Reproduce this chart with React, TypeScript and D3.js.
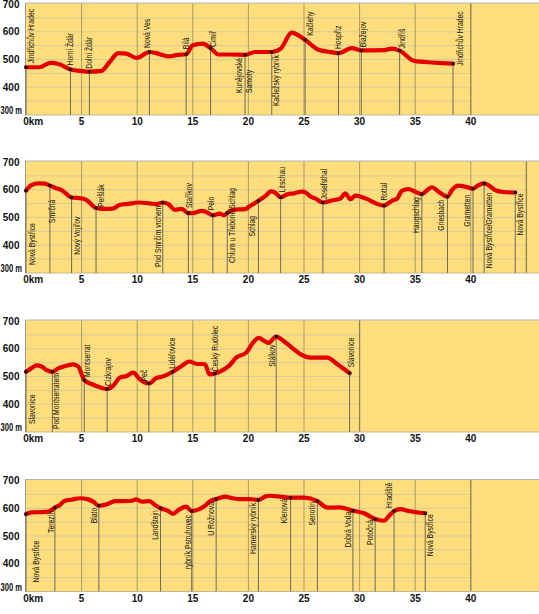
import React from "react";
import * as d3 from "d3";

// ---------- DATA ----------
const kmTicks = [0, 5, 10, 15, 20, 25, 30, 35, 40];
const kmTickLabels = ["0km", "5", "10", "15", "20", "25", "30", "35", "40"];
const elevTicks = [700, 600, 500, 400, 300];
const elevTickLabels = ["700", "600", "500", "400", "300 m"];
const gridLinesElev = [350, 400, 450, 500, 550, 600, 650];
const gridEndKm = [40, 45, 30, 40];

// Route 1: Jindřichův Hradec – Jindřichův Hradec
const stops1: [string, number, number][] = [
  ["Jindřichův Hradec", 0, 472],
  ["Horní Ždár", 4.0, 464],
  ["Dolní Ždár", 5.7, 456],
  ["Nová Ves", 11.1, 527],
  ["Bílá", 14.4, 519],
  ["Cimíř", 16.6, 541],
  ["Kunějovské\nSamoty", 19.7, 517],
  ["Kačležský rybník", 22.1, 527],
  ["Kačlehy", 25.1, 571],
  ["Hospříz", 28.1, 523],
  ["Blažejov", 30.15, 533],
  ["Jindříš", 33.6, 532],
  ["Jindřichův Hradec", 38.4, 485],
];
const profile1: [number, number][] = [
  [1.2, 472], [2.2, 488], [3.0, 483], [5.0, 458], [6.8, 459], [7.5, 490], [8.3, 523],
  [9.0, 521], [9.95, 506], [11.7, 523], [12.9, 511], [13.5, 516], [15.0, 551],
  [15.9, 557], [17.3, 518], [18.3, 518], [20.6, 527], [21.5, 527], [22.9, 539],
  [23.9, 597], [24.5, 587], [26.3, 535], [27.2, 528], [29.3, 541], [32.2, 534],
  [32.9, 539], [34.9, 495], [36.7, 489],
];

// Route 2: Nová Bystřice – Nová Bystřice
const stops2: [string, number, number][] = [
  ["Nová Bystřice", 0, 597],
  ["Smrčná", 2.15, 615],
  ["Nový Vojířov", 4.1, 572],
  ["Peršlák", 6.3, 534],
  ["Pod Smrčím vrchem", 12.3, 554],
  ["Staříkov", 14.6, 516],
  ["Pelo", 16.8, 508],
  ["Chlum u Třeboně/Schlag", 18.1, 516],
  ["Schlag", 20.9, 560],
  ["Litschau", 22.9, 573],
  ["Josefsthal", 26.7, 554],
  ["Rottal", 32.2, 543],
  ["Haugschlag", 35.6, 584],
  ["Griesbach", 37.9, 575],
  ["Grametten", 40.2, 604],
  ["Nová Bystřice/Grametten", 41.2, 623],
  ["Nová Bystřice", 44.0, 590],
];
const profile2: [number, number][] = [
  [0.5, 617], [1.1, 623], [1.7, 622], [2.75, 605], [3.2, 599], [5.0, 569], [5.45, 563],
  [6.95, 531], [7.8, 532], [8.4, 545], [9.2, 549], [10.1, 554], [11.1, 551], [11.7, 548],
  [12.8, 548], [13.4, 528], [14.0, 531], [15.0, 516], [15.8, 524], [16.2, 520],
  [17.4, 514], [17.8, 508], [18.6, 528], [19.7, 530], [20.1, 540], [21.6, 580],
  [22.0, 594], [22.4, 590], [23.5, 584], [24.1, 587], [24.8, 593], [25.1, 591],
  [25.6, 575], [26.0, 569], [27.5, 561], [28.3, 569], [28.7, 587], [29.2, 566],
  [29.6, 579], [30.1, 575], [30.7, 566], [31.3, 554], [32.9, 560], [33.4, 569],
  [33.8, 596], [34.4, 602], [35.0, 593], [36.1, 599], [36.5, 609], [37.1, 593],
  [38.3, 599], [38.9, 615], [39.5, 611], [40.6, 614], [41.6, 616], [42.2, 599],
  [42.9, 592],
];

// Route 3: Slavonice – Slavonice
const stops3: [string, number, number][] = [
  ["Slavonice", 0, 517],
  ["Pod Montserratem", 2.37, 517],
  ["Montserrat", 5.24, 487],
  ["Cizkrajov", 7.3, 455],
  ["Peč", 11.05, 475],
  ["Lidéřovice", 13.2, 517],
  ["Český Rudolec", 17.0, 511],
  ["Stálkov", 22.5, 644],
  ["Slavonice", 29.1, 512],
];
const profile3: [number, number][] = [
  [0.5, 530], [0.96, 540], [1.4, 536], [1.86, 523], [2.9, 529], [3.5, 538], [4.25, 544],
  [4.7, 536], [5.9, 473], [6.65, 461], [7.85, 467], [8.44, 496], [9.04, 502],
  [9.64, 514], [10.24, 490], [11.7, 494], [12.3, 500], [14.0, 538], [14.7, 554],
  [15.3, 546], [16.1, 544], [16.5, 508], [17.7, 523], [18.3, 540], [18.9, 568],
  [19.8, 586], [20.4, 621], [20.9, 639], [21.5, 627], [21.8, 621], [23.2, 627],
  [23.9, 604], [24.7, 580], [25.6, 568], [27.1, 568], [28.0, 544],
];

// Route 4: Nová Bystřice – Nová Bystřice
const stops4: [string, number, number][] = [
  ["Nová Bystřice", 0, 579],
  ["Terezín", 2.6, 602],
  ["Blato", 6.55, 609],
  ["Landštejn", 12.1, 600],
  ["rybník Pstruhovec", 14.9, 590],
  ["U Rožnova", 17.1, 633],
  ["Hamerský rybník", 20.9, 630],
  ["Klenová", 23.8, 638],
  ["Senotín", 26.2, 626],
  ["Dobrá Voda", 29.4, 591],
  ["Potočná", 31.4, 561],
  ["Hradiště", 33.1, 590],
  ["Nová Bystřice", 35.9, 582],
];
const profile4: [number, number][] = [
  [0.5, 585], [1.26, 586], [2.0, 588], [3.05, 612], [3.5, 627], [4.25, 632], [4.85, 636],
  [5.5, 633], [6.05, 624], [7.25, 614], [8.0, 626], [8.9, 626], [9.5, 627], [9.9, 632],
  [10.4, 624], [11.1, 626], [11.6, 612], [12.8, 590], [13.2, 580], [13.8, 596],
  [14.4, 606], [15.6, 597], [16.2, 612], [16.5, 624], [17.9, 642], [18.6, 636],
  [19.2, 633], [20.1, 633], [21.5, 642], [21.9, 645], [22.9, 642], [25.0, 638],
  [27.1, 602], [28.2, 603], [30.4, 582], [32.2, 555], [32.6, 570], [33.7, 597],
  [34.4, 590],
];

// ---------- LABEL LAYOUT (side, dx, gap) ----------
type Lay = [string, number, number];
const layout1: Lay[] = [
  ["up", 5, 4], ["up", 0, 4], ["up", 0, 3], ["up", -2, 4], ["up", 0, 5], ["up", 2, 1],
  ["base", -1, 22], ["down", 4, 3], ["up", 5, 4], ["up", 0, 4], ["up", 2, 3], ["up", 2, 2],
  ["up", 7, -2],
];
const layout2: Lay[] = [
  ["base", 6, 8], ["down", 2.5, 14], ["down", 5, 19], ["up", 5, 1], ["down", -5, 3],
  ["up", 1, 5], ["up", -2, 5], ["base", 5, 10], ["down", -6, 15], ["up", 1, 5],
  ["up", 1, 3], ["up", 0, 5], ["down", -6, 3], ["down", -6, 3], ["down", -6, 6],
  ["down", 5, 9], ["down", 5, 1],
];
const layout3: Lay[] = [
  ["base", 6, 8], ["base", 4, 3], ["up", 3, 3], ["up", 1, 3], ["up", -5, 2], ["up", -1, 3],
  ["up", 0, 2], ["down", -4, 8], ["up", 1, 6],
];
const layout4: Lay[] = [
  ["base", 10, 9], ["down", -4, 3], ["down", -5, 2], ["down", -6, 2], ["down", -4, 4],
  ["down", -5, 3], ["down", -5, 3], ["down", -7, 1], ["down", -5, 1], ["down", -5, 1],
  ["down", -5, 1], ["up", -5, 3], ["down", 5, 1],
];

const allStops = [stops1, stops2, stops3, stops4];
const allProfiles = [profile1, profile2, profile3, profile4];
const allLayouts = [layout1, layout2, layout3, layout4];

// ---------- STYLE / GEOMETRY ----------
const W = 539;
const H = 614;
const panelTops = [4, 162, 321, 480.5];
const panelH = 111;
const plotLeft = 25;
const FONT = "'Liberation Sans', Arial, Helvetica, sans-serif";
const YELLOW = "#fede7c";

const xScale = d3.scaleLinear().domain([0, 40]).range([26, 26 + 40 * 11.12]);

function Panel({ idx }: { idx: number }) {
  const top = panelTops[idx];
  const bottom = top + panelH;
  const y = d3.scaleLinear().domain([300, 700]).range([bottom, top]);
  const stops = allStops[idx];
  const lay = allLayouts[idx];
  const pts: [number, number][] = [
    ...allProfiles[idx],
    ...stops.map((s) => [s[1], s[2]] as [number, number]),
  ].sort((a, b) => a[0] - b[0]);
  const line = d3
    .line<[number, number]>()
    .x((d) => xScale(d[0]))
    .y((d) => y(d[1]))
    .curve(d3.curveMonotoneX);
  const gEnd = gridEndKm[idx];
  const vLines = d3.range(5, gEnd + 0.1, 5);

  return (
    <g>
      <rect x={plotLeft} y={top - 1} width={W - plotLeft} height={bottom - top + 1} fill={YELLOW} />
      {gridLinesElev.map((v) => (
        <line key={"h" + v} x1={plotLeft} x2={xScale(gEnd)} y1={y(v)} y2={y(v)} stroke="#d6cb9a" strokeWidth={1} />
      ))}
      {vLines.map((k) => (
        <line
          key={"v" + k}
          x1={xScale(k)}
          x2={xScale(k)}
          y1={top - 1}
          y2={bottom}
          stroke={k === gEnd ? "#8d8057" : "#aa9b68"}
          strokeWidth={k === gEnd ? 1.3 : 1}
        />
      ))}
      <line x1={plotLeft} x2={W} y1={top - 1} y2={top - 1} stroke="#b5b5b5" strokeWidth={1} />
      <line x1={plotLeft} x2={W} y1={bottom} y2={bottom} stroke="#c2b98f" strokeWidth={1} />
      <line x1={plotLeft + 0.5} x2={plotLeft + 0.5} y1={top - 1} y2={bottom} stroke="#9a9a9a" strokeWidth={1} />

      {/* stop guide lines */}
      {stops.map((s, i) => (
        <line
          key={"s" + i}
          x1={xScale(s[1])}
          x2={xScale(s[1])}
          y1={y(s[2])}
          y2={bottom}
          stroke="#6e6a5a"
          strokeWidth={1}
        />
      ))}

      <path d={line(pts) || ""} fill="none" stroke="#e50000" strokeWidth={4.2} strokeLinecap="round" strokeLinejoin="round" />

      {stops.map((s, i) => (
        <rect key={"m" + i} x={xScale(s[1]) - 1.5} y={y(s[2]) - 1.5} width={3} height={3} fill="#111" />
      ))}

      {/* stop labels */}
      {stops.map((s, i) => {
        const [side, dx, gap] = lay[i];
        const mx = xScale(s[1]);
        const my = y(s[2]);
        let ly = my;
        let anchor = "start";
        if (side === "up") {
          ly = my - gap;
        } else if (side === "down") {
          ly = my + gap;
          anchor = "end";
        } else {
          ly = bottom - gap;
        }
        const parts = s[0].split("\n");
        return (
          <g key={"l" + i} transform={`translate(${mx + dx},${ly}) rotate(-90)`}>
            <text
              transform="scale(0.8,1)"
              textAnchor={anchor}
              fontSize={8.5}
              fontFamily={FONT}
              fill="#111"
            >
              {parts.length === 1 ? (
                <tspan x={0} dy="0.35em">{parts[0]}</tspan>
              ) : (
                parts.map((p, j) => (
                  <tspan key={j} x={0} y={(j - (parts.length - 1) / 2) * 10} dy="0.35em">
                    {p}
                  </tspan>
                ))
              )}
            </text>
          </g>
        );
      })}

      {/* y axis labels */}
      {elevTicks.map((v, i) =>
        v === 300 ? (
          <text
            key={"yl" + v}
            x={0.5}
            y={bottom - 1}
            textAnchor="start"
            textLength={21.5}
            lengthAdjust="spacingAndGlyphs"
            fontSize={10}
            fontWeight="bold"
            fontFamily={FONT}
            fill="#111"
          >
            {elevTickLabels[i]}
          </text>
        ) : (
          <text
            key={"yl" + v}
            x={19.5}
            y={y(v)}
            dy="0.35em"
            textAnchor="end"
            fontSize={10}
            fontWeight="bold"
            fontFamily={FONT}
            fill="#111"
          >
            {elevTickLabels[i]}
          </text>
        )
      )}

      {/* x axis labels */}
      {kmTicks.map((k, i) => (
        <text
          key={"xl" + k}
          x={k === 0 ? xScale(k) - 2.8 : xScale(k)}
          y={bottom + 10}
          textAnchor={k === 0 ? "start" : "middle"}
          fontSize={10}
          fontWeight="bold"
          fontFamily={FONT}
          fill="#111"
        >
          {kmTickLabels[i]}
        </text>
      ))}
    </g>
  );
}

export default function App() {
  return (
    <svg
      width={W}
      height={H}
      viewBox={`0 0 ${W} ${H}`}
      style={{ position: "absolute", left: 0, top: 0, background: "#fff" }}
    >
      {[0, 1, 2, 3].map((i) => (
        <Panel key={i} idx={i} />
      ))}
    </svg>
  );
}
